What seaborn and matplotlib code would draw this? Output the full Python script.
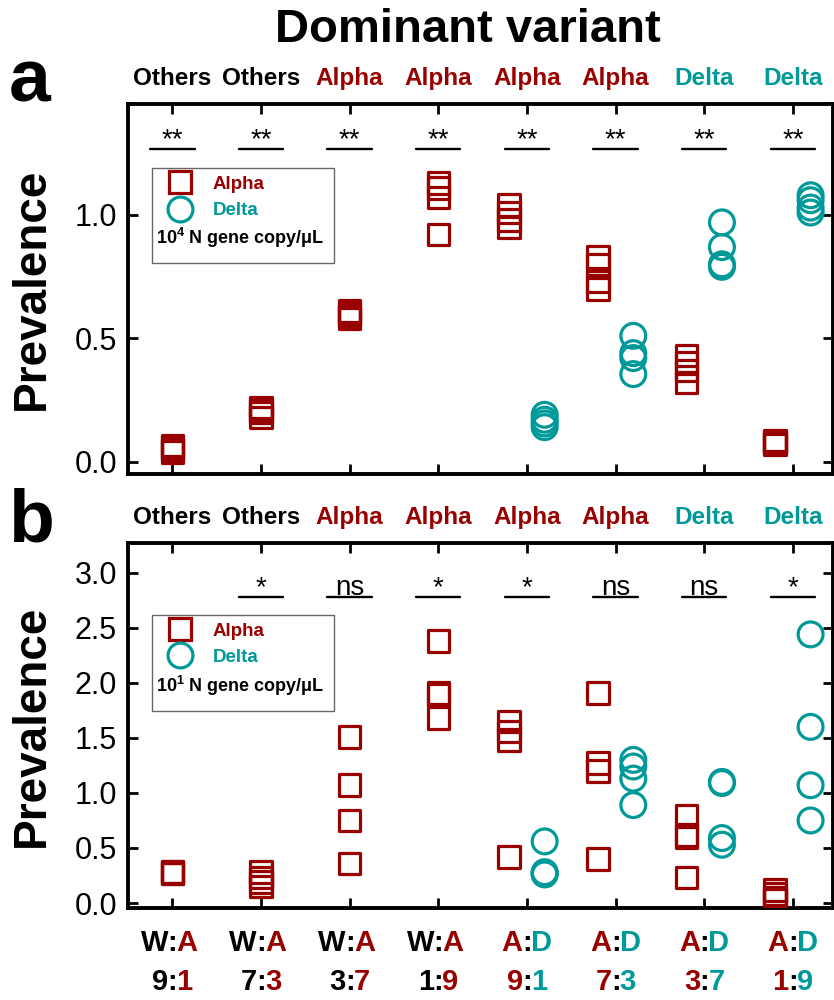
import numpy as np
import pandas as pd
import matplotlib
matplotlib.use('Agg')
import matplotlib.pyplot as plt
from matplotlib.lines import Line2D
from matplotlib.patches import Rectangle
import seaborn as sns

#Colours
RED = '#990000'
TEAL = '#009999'
COLOURS = {'Others': 'black', 'Alpha': RED, 'Delta': TEAL, 'W': 'black', 'A': RED, 'D': TEAL}

#Data
dominant = ['Others', 'Others', 'Alpha', 'Alpha', 'Alpha', 'Alpha', 'Delta', 'Delta']
mix_pair = [('W', 'A')] * 4 + [('A', 'D')] * 4
mix_ratio = [('9', '1'), ('7', '3'), ('3', '7'), ('1', '9')] * 2

#panel a: 10^4 N gene copy/uL
alpha_a = [[0.05, 0.06, 0.04, 0.065],
           [0.18, 0.20, 0.22, 0.21],
           [0.58, 0.59, 0.60, 0.61],
           [1.13, 1.11, 1.07, 0.92],
           [1.04, 1.01, 0.98, 0.95],
           [0.83, 0.80, 0.73, 0.70],
           [0.43, 0.40, 0.37, 0.32],
           [0.08, 0.075, 0.07, 0.085]]
delta_a = [[], [], [], [],
           [0.19, 0.17, 0.155, 0.14],
           [0.51, 0.44, 0.42, 0.355],
           [0.97, 0.87, 0.80, 0.79],
           [1.08, 1.06, 1.03, 1.01]]
sig_a = ['**', '**', '**', '**', '**', '**', '**', '**']

#panel b: 10^1 N gene copy/uL
alpha_b = [[0.27, 0.28, 0.27, 0.28],
           [0.28, 0.23, 0.19, 0.15],
           [1.51, 1.07, 0.75, 0.36],
           [2.38, 1.91, 1.89, 1.68],
           [1.65, 1.56, 1.48, 0.42],
           [1.91, 1.27, 1.20, 0.40],
           [0.79, 0.62, 0.60, 0.23],
           [0.12, 0.08, 0.05, 0.03]]
delta_b = [[], [], [], [],
           [0.56, 0.28, 0.27, 0.26],
           [1.30, 1.24, 1.13, 0.89],
           [1.10, 1.09, 0.59, 0.53],
           [2.44, 1.60, 1.07, 0.75]]
sig_b = ['', '*', 'ns', '*', '*', 'ns', 'ns', '*']


def to_long(alpha, delta):
    rows = []
    for i, (al, de) in enumerate(zip(alpha, delta)):
        shift = 0.2 if de else 0.0
        for v in al:
            rows.append({'x': i - shift, 'variant': 'Alpha', 'prevalence': v})
        for v in de:
            rows.append({'x': i + shift, 'variant': 'Delta', 'prevalence': v})
    return pd.DataFrame(rows)


sns.set_style('ticks')
plt.rcParams['font.family'] = ['Liberation Sans', 'DejaVu Sans']
plt.rcParams['mathtext.fontset'] = 'custom'
plt.rcParams['mathtext.rm'] = 'Liberation Sans'
plt.rcParams['mathtext.bf'] = 'Liberation Sans:bold'
for key in ['text.color', 'axes.labelcolor', 'xtick.color', 'ytick.color', 'axes.edgecolor']:
    plt.rcParams[key] = 'black'

fig = plt.figure(figsize=(8.34, 10), dpi=100)
ax_a = fig.add_axes([0.1535, 0.526, 0.845, 0.370])
ax_b = fig.add_axes([0.1535, 0.092, 0.845, 0.365])

SQ = 240
CI = 320
LW = 2.3


def draw_panel(ax, df, sig, sig_y, ylim, yticks, note, box):
    sns.scatterplot(data=df[df.variant == 'Alpha'], x='x', y='prevalence', ax=ax,
                    marker='s', s=SQ, color=RED, facecolors='none', edgecolor=RED,
                    linewidth=LW, legend=False, zorder=3)
    sns.scatterplot(data=df[df.variant == 'Delta'], x='x', y='prevalence', ax=ax,
                    marker='o', s=CI, color=TEAL, facecolors='none', edgecolor=TEAL,
                    linewidth=LW, legend=False, zorder=3)
    ax.set_xlim(-0.5, 7.45)
    ax.set_ylim(*ylim)
    ax.set_xticks(range(8))
    ax.set_yticks(yticks)
    ax.set_yticklabels(['%.1f' % t for t in yticks])
    ax.tick_params(direction='in', length=7, width=2, top=True, right=True,
                   labelbottom=False, labelsize=22, pad=8)
    for sp in ax.spines.values():
        sp.set_linewidth(2.8)
    ax.set_xlabel('')
    ax.set_ylabel('Prevalence', fontsize=33, fontweight='bold')
    ax.yaxis.set_label_coords(-0.137, 0.5)
    ax.yaxis.label.set_va('center')

    #significance bars
    for i, s in enumerate(sig):
        if not s:
            continue
        ax.plot([i - 0.25, i + 0.25], [sig_y, sig_y], color='black', lw=1.7)
        ax.text(i, sig_y + 0.004 * (ylim[1] - ylim[0]), s, ha='center', va='baseline',
                fontsize=20)

    #dominant variant labels above the panel
    xt = ax.get_xaxis_transform()
    for i, d in enumerate(dominant):
        ax.text(i, 1.07, d, transform=xt, ha='center', va='center', fontsize=17.5,
                fontweight='bold', color=COLOURS[d], clip_on=False)

    #legend with box and note
    x0, y0, x1, y1 = box
    ax.add_patch(Rectangle((x0, y0), x1 - x0, y1 - y0, transform=ax.transAxes,
                           fill=False, ec='#666666', lw=1.0, zorder=4))
    handles = [Line2D([], [], ls='none', marker='s', ms=np.sqrt(SQ), mfc='none', mec=RED, mew=LW),
               Line2D([], [], ls='none', marker='o', ms=np.sqrt(CI), mfc='none', mec=TEAL, mew=LW)]
    ax.legend(handles, ['Alpha', 'Delta'], loc='upper left', bbox_to_anchor=(x0, y1),
              frameon=False, borderaxespad=0, borderpad=0.4, handlelength=2.2,
              handletextpad=0.65, labelspacing=0.5, labelcolor=[RED, TEAL],
              prop={'weight': 'bold', 'size': 13.5})
    ax.text(x0 + 0.006, y0 + 0.035, note, transform=ax.transAxes,
            ha='left', va='bottom', fontsize=13, fontweight='bold')


draw_panel(ax_a, to_long(alpha_a, delta_a), sig_a, 1.267, (-0.05, 1.45), [0.0, 0.5, 1.0],
           r'10$^{\mathbf{4}}$ N gene copy/μL', (0.034, 0.570, 0.292, 0.827))
draw_panel(ax_b, to_long(alpha_b, delta_b), sig_b, 2.78, (-0.045, 3.27),
           [0.0, 0.5, 1.0, 1.5, 2.0, 2.5, 3.0],
           r'10$^{\mathbf{1}}$ N gene copy/μL', (0.034, 0.540, 0.292, 0.803))

#mixing ratio labels under panel b
xt = ax_b.get_xaxis_transform()
for i, ((l, r), (n1, n2)) in enumerate(zip(mix_pair, mix_ratio)):
    for y, (a, b) in [(-0.096, (l, r)), (-0.203, (n1, n2))]:
        ax_b.annotate(':', xy=(i, y), xycoords=xt, ha='center', va='center',
                      fontsize=21, fontweight='bold', color='black')
        ax_b.annotate(a, xy=(i, y), xycoords=xt, xytext=(-3.0, 0), textcoords='offset points',
                      ha='right', va='center', fontsize=21, fontweight='bold', color=COLOURS[l])
        ax_b.annotate(b, xy=(i, y), xycoords=xt, xytext=(3.0, 0), textcoords='offset points',
                      ha='left', va='center', fontsize=21, fontweight='bold', color=COLOURS[r])

fig.text(0.5606, 0.970, 'Dominant variant', ha='center', va='center', fontsize=34,
         fontweight='bold')
fig.text(0.010, 0.918, 'a', ha='left', va='center', fontsize=54, fontweight='bold')
fig.text(0.010, 0.478, 'b', ha='left', va='center', fontsize=54, fontweight='bold')

fig.savefig('out.png', dpi=100)
